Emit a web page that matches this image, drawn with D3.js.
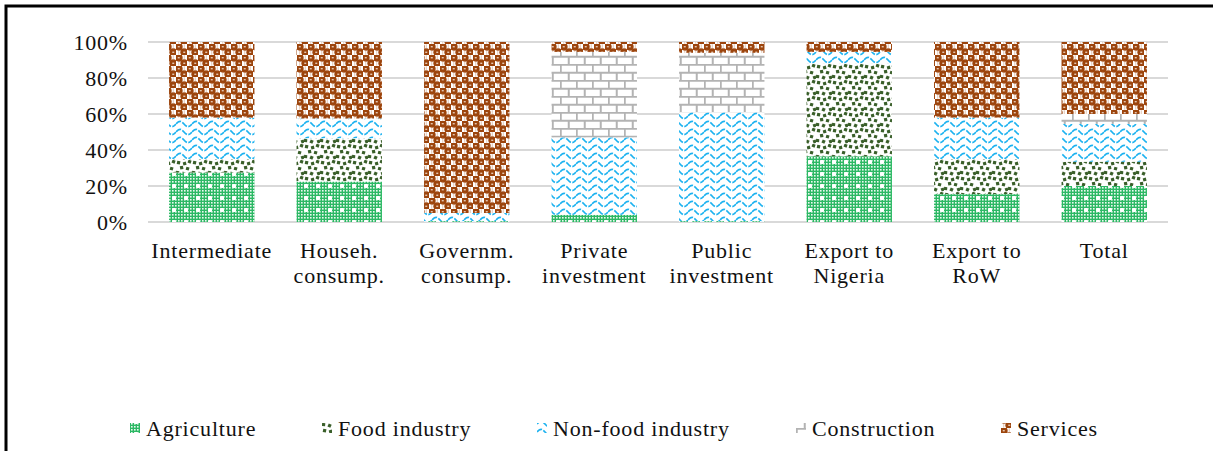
<!DOCTYPE html>
<html lang="en">
<head>
    <meta charset="UTF-8">
    <title>Demand composition by sector</title>
    <script src="https://d3js.org/d3.v7.min.js"></script>
    <style>
        body { margin: 0; background: #fff; font-family: "Liberation Serif", "Times New Roman", serif; }
        svg { display: block; }
        text { letter-spacing: 0.8px; }
    </style>
</head>
<body>
    <svg width="1213" height="451"></svg>

    <script>
        // data (shares, %)
        const categories = [
            ["Intermediate"],
            ["Househ.", "consump."],
            ["Governm.", "consump."],
            ["Private", "investment"],
            ["Public", "investment"],
            ["Export to", "Nigeria"],
            ["Export to", "RoW"],
            ["Total"]
        ];
        const sectors = ["Agriculture", "Food industry", "Non-food industry", "Construction", "Services"];
        const agriculture   = [27.5, 22.5, 0.5, 4, 0.5, 36.5, 15.5, 20];
        const foodIndustry  = [7.5, 24, 0, 0, 0, 51.5, 19.5, 13.5];
        const nonFood       = [23, 11, 4.5, 43, 60.5, 6.5, 23, 21];
        const construction  = [0, 0, 0, 47.5, 33, 0, 0, 5.5];
        const services      = [42, 42.5, 95, 5.5, 6, 5.5, 42, 40];
        const yTicks = [0, 20, 40, 60, 80, 100];

        const width = 1213, height = 451;
        const margin = { left: 148, right: 45, top: 42, bottom: 229 };
        const svg = d3.select("svg");

        const rows = categories.map((c, i) => ({
            key: i,
            "Agriculture": agriculture[i],
            "Food industry": foodIndustry[i],
            "Non-food industry": nonFood[i],
            "Construction": construction[i],
            "Services": services[i]
        }));

        // patterns
        const defs = svg.append("defs");

        // agriculture: small green grid
        let p = defs.append("pattern").attr("id", "p-agri").attr("patternUnits", "userSpaceOnUse")
            .attr("width", 12).attr("height", 12);
        p.append("rect").attr("width", 12).attr("height", 12).attr("fill", "#2cb864");
        for (let x = 0; x < 12; x += 3) {
            for (let y = 0; y < 12; y += 3) {
                p.append("rect").attr("x", x + 1).attr("y", y + 1).attr("width", 1.6).attr("height", 1.6)
                    .attr("fill", "#ffffff").attr("opacity", 0.9);
            }
        }
        p.append("rect").attr("x", 5).attr("y", 4).attr("width", 2).attr("height", 4).attr("fill", "#fff");
        p.append("rect").attr("x", 4).attr("y", 5).attr("width", 4).attr("height", 2).attr("fill", "#fff");

        // food industry: dark green confetti
        p = defs.append("pattern").attr("id", "p-food").attr("patternUnits", "userSpaceOnUse")
            .attr("width", 16).attr("height", 16);
        p.append("rect").attr("width", 16).attr("height", 16).attr("fill", "#fff");
        [[1, 1, 10], [7, 2, -15], [12, 0, 20], [4, 6, -10], [10, 7, 15], [0, 11, 5], [6, 12, 25], [13, 12, -20]]
            .forEach(([x, y, r]) => {
                p.append("rect").attr("x", x).attr("y", y).attr("width", 3.2).attr("height", 3.2)
                    .attr("fill", "#3a5f2a")
                    .attr("transform", `rotate(${r},${x + 1.5},${y + 1.5})`);
            });

        // non-food industry: blue waves
        p = defs.append("pattern").attr("id", "p-nonfood").attr("patternUnits", "userSpaceOnUse")
            .attr("width", 16).attr("height", 8);
        p.append("rect").attr("width", 16).attr("height", 8).attr("fill", "#fff");
        p.append("path")
            .attr("d", "M0,4 C3,0.5 5,0.5 8,4 C11,7.5 13,7.5 16,4")
            .attr("fill", "none").attr("stroke", "#1cb2f0").attr("stroke-width", 1.7)
            .attr("stroke-dasharray", "6,1.5");

        // construction: grey bricks
        p = defs.append("pattern").attr("id", "p-constr").attr("patternUnits", "userSpaceOnUse")
            .attr("width", 16).attr("height", 16);
        p.append("rect").attr("width", 16).attr("height", 16).attr("fill", "#fff");
        p.append("path")
            .attr("d", "M0,0.75H16 M0,8.75H16 M0.75,0V8 M8.75,8V16")
            .attr("stroke", "#b3b3b3").attr("stroke-width", 2).attr("fill", "none");

        // services: brown sphere checker
        p = defs.append("pattern").attr("id", "p-serv").attr("patternUnits", "userSpaceOnUse")
            .attr("width", 11).attr("height", 11);
        p.append("rect").attr("width", 11).attr("height", 11).attr("fill", "#fff");
        [[2.75, 2.75], [8.25, 8.25]].forEach(([cx, cy]) => {
            p.append("circle").attr("cx", cx).attr("cy", cy).attr("r", 3.9).attr("fill", "#9c440c");
            p.append("rect").attr("x", cx - 1).attr("y", cy - 0.6).attr("width", 2).attr("height", 1.2).attr("fill", "#f1dccd");
        });
        [[8.25, 2.75], [2.75, 8.25]].forEach(([cx, cy]) => {
            p.append("rect").attr("x", cx - 0.5).attr("y", cy - 2.5).attr("width", 1).attr("height", 5)
                .attr("fill", "#c58a62").attr("opacity", 0.5);
        });

        const fills = {
            "Agriculture": "url(#p-agri)",
            "Food industry": "url(#p-food)",
            "Non-food industry": "url(#p-nonfood)",
            "Construction": "url(#p-constr)",
            "Services": "url(#p-serv)"
        };

        // frame (only top and left edges are visible in the crop)
        svg.append("path").attr("d", `M6,${height} V6 H${width}`)
            .attr("fill", "none").attr("stroke", "#000").attr("stroke-width", 3);

        const x = d3.scaleBand()
            .domain(categories.map((c, i) => i))
            .range([margin.left, width - margin.right])
            .paddingInner(0.33).paddingOuter(0.165);
        const y = d3.scaleLinear().domain([0, 100]).range([height - margin.bottom, margin.top]);

        // gridlines
        svg.append("g").selectAll("line").data(yTicks).join("line")
            .attr("x1", margin.left).attr("x2", width - margin.right)
            .attr("y1", d => y(d)).attr("y2", d => y(d))
            .attr("stroke", "#d9d9d9").attr("stroke-width", 2);

        // y labels
        svg.append("g").selectAll("text").data(yTicks).join("text")
            .attr("x", 128).attr("y", d => y(d)).attr("dy", "0.35em")
            .attr("text-anchor", "end").attr("font-size", 22).attr("fill", "#111")
            .text(d => d + "%");

        // stacked bars
        const stack = d3.stack().keys(sectors)(rows);
        svg.append("g").selectAll("g").data(stack).join("g")
            .attr("fill", d => fills[d.key])
            .selectAll("rect").data(d => d).join("rect")
            .attr("x", d => x(d.data.key))
            .attr("width", x.bandwidth())
            .attr("y", d => y(d[1]))
            .attr("height", d => y(d[0]) - y(d[1]));

        // category labels
        const xl = svg.append("g").selectAll("text").data(categories).join("text")
            .attr("x", (d, i) => x(i) + x.bandwidth() / 2)
            .attr("y", 258)
            .attr("text-anchor", "middle").attr("font-size", 22).attr("fill", "#111");
        xl.selectAll("tspan").data(d => d).join("tspan")
            .attr("x", function () { return this.parentNode.getAttribute("x"); })
            .attr("dy", (d, i) => i === 0 ? 0 : 25)
            .text(d => d);

        // legend
        const legendX = [130, 322, 537, 796, 1001];
        const lg = svg.append("g").selectAll("g").data(sectors).join("g")
            .attr("transform", (d, i) => `translate(${legendX[i]},428)`);
        lg.append("rect").attr("x", 0).attr("y", -5).attr("width", 10).attr("height", 10)
            .attr("fill", d => fills[d]);
        lg.append("text").attr("x", 16).attr("dy", "0.35em")
            .attr("font-size", 22).attr("fill", "#111").text(d => d);
    </script>
</body>
</html>
